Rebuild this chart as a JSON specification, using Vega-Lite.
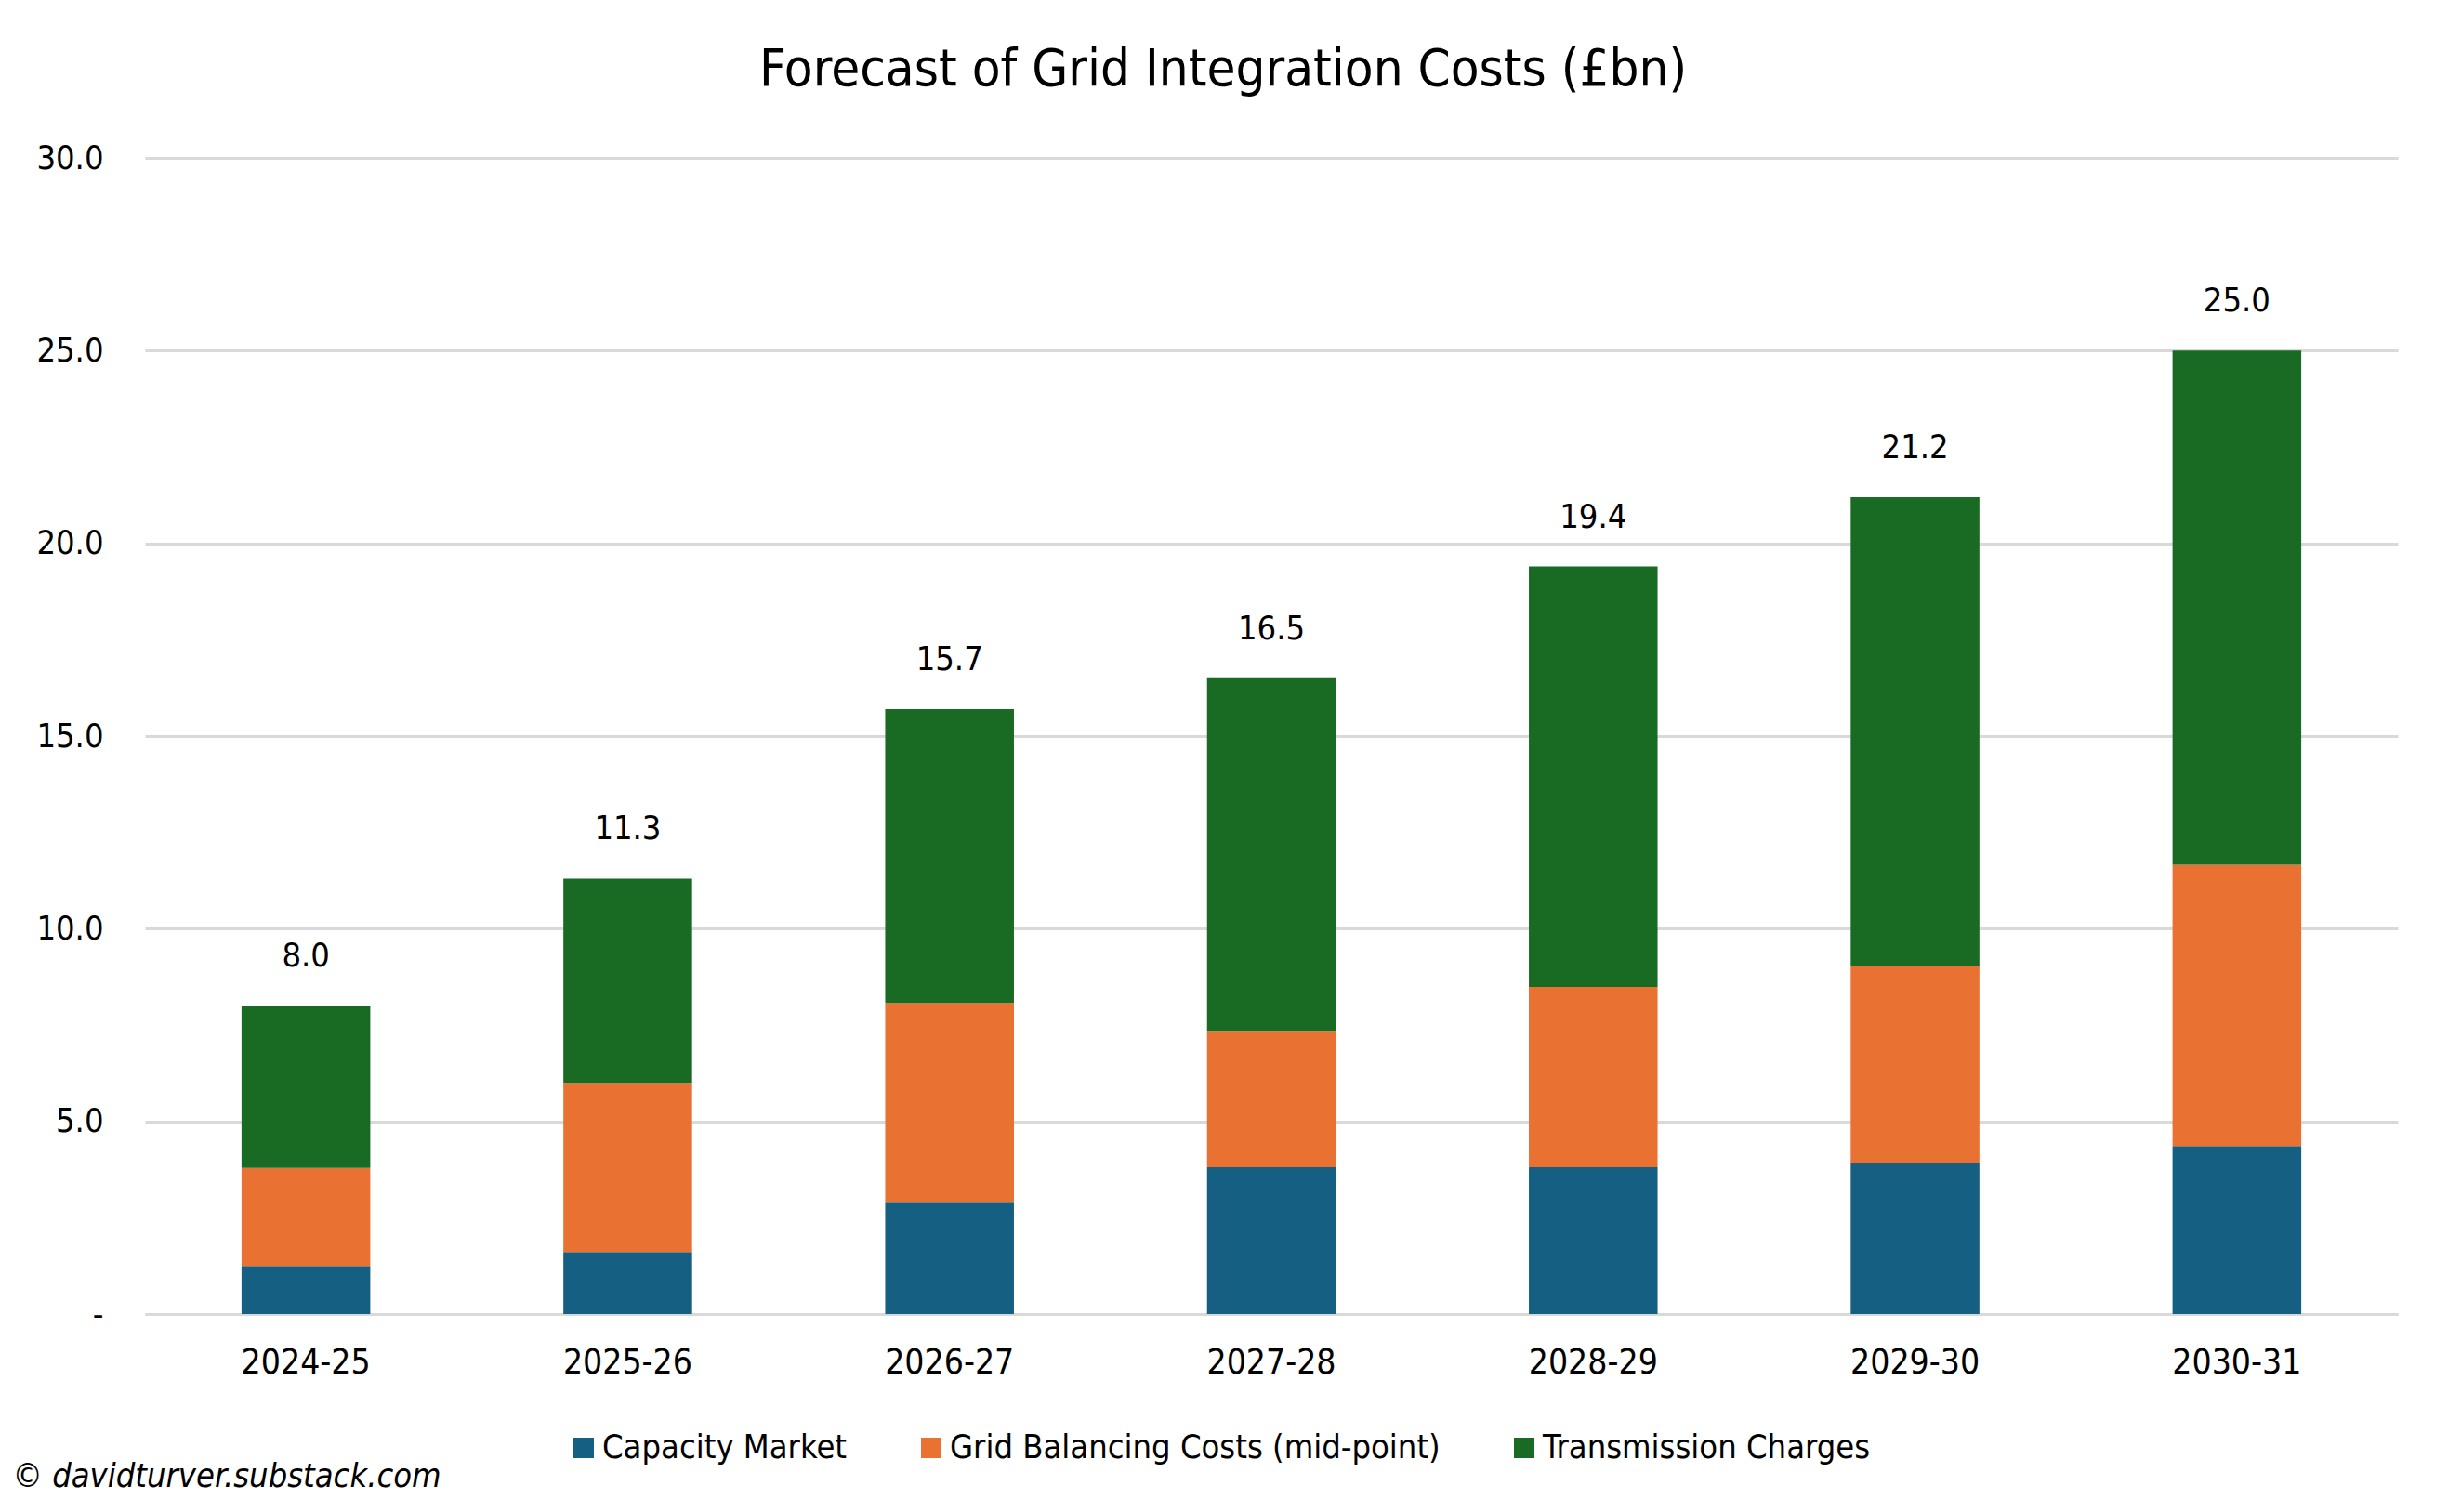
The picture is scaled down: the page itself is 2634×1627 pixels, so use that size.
{
  "$schema": "https://vega.github.io/schema/vega-lite/v6.json",
  "autosize": "none",
  "width": 2424,
  "height": 1244,
  "padding": {"left": 156, "top": 170, "right": 54, "bottom": 213},
  "background": "white",
  "config": {
    "view": {"stroke": "transparent"},
    "font": "Liberation Sans Narrow, Arial Narrow, DejaVu Sans Condensed, Roboto Condensed, sans-serif"
  },
  "title": {
    "text": "Forecast of Grid Integration Costs (£bn)",
    "fontSize": 56,
    "fontWeight": "normal",
    "color": "black",
    "anchor": "middle",
    "dx": -52,
    "offset": 48
  },
  "data": {
    "values": [
      {"year": "2024-25", "series": "Capacity Market", "value": 1.25},
      {"year": "2024-25", "series": "Grid Balancing Costs (mid-point)", "value": 2.54},
      {"year": "2024-25", "series": "Transmission Charges", "value": 4.21},
      {"year": "2025-26", "series": "Capacity Market", "value": 1.61},
      {"year": "2025-26", "series": "Grid Balancing Costs (mid-point)", "value": 4.39},
      {"year": "2025-26", "series": "Transmission Charges", "value": 5.30},
      {"year": "2026-27", "series": "Capacity Market", "value": 2.91},
      {"year": "2026-27", "series": "Grid Balancing Costs (mid-point)", "value": 5.16},
      {"year": "2026-27", "series": "Transmission Charges", "value": 7.63},
      {"year": "2027-28", "series": "Capacity Market", "value": 3.81},
      {"year": "2027-28", "series": "Grid Balancing Costs (mid-point)", "value": 3.54},
      {"year": "2027-28", "series": "Transmission Charges", "value": 9.15},
      {"year": "2028-29", "series": "Capacity Market", "value": 3.81},
      {"year": "2028-29", "series": "Grid Balancing Costs (mid-point)", "value": 4.68},
      {"year": "2028-29", "series": "Transmission Charges", "value": 10.91},
      {"year": "2029-30", "series": "Capacity Market", "value": 3.93},
      {"year": "2029-30", "series": "Grid Balancing Costs (mid-point)", "value": 5.11},
      {"year": "2029-30", "series": "Transmission Charges", "value": 12.16},
      {"year": "2030-31", "series": "Capacity Market", "value": 4.36},
      {"year": "2030-31", "series": "Grid Balancing Costs (mid-point)", "value": 7.30},
      {"year": "2030-31", "series": "Transmission Charges", "value": 13.34}
    ]
  },
  "encoding": {
    "x": {
      "field": "year",
      "type": "nominal",
      "scale": {"paddingInner": 0.6, "paddingOuter": 0.3},
      "axis": {
        "title": "© davidturver.substack.com",
        "titleFontStyle": "italic",
        "titleFontWeight": "normal",
        "titleFontSize": 36,
        "titleColor": "black",
        "titleAnchor": "start",
        "titleAlign": "left",
        "titleBaseline": "middle",
        "titleX": -143,
        "titleY": 174,
        "labelAngle": 0,
        "labelFontSize": 37,
        "labelColor": "black",
        "labelPadding": 34,
        "ticks": false,
        "domainColor": "#D9D9D9",
        "domainWidth": 3
      }
    }
  },
  "layer": [
    {
      "mark": {"type": "bar"},
      "encoding": {
        "y": {
          "field": "value",
          "type": "quantitative",
          "stack": "zero",
          "scale": {"domain": [0, 30]},
          "axis": {
            "title": null,
            "values": [0, 5, 10, 15, 20, 25, 30],
            "labelExpr": "datum.value == 0 ? '-' : format(datum.value, '.1f')",
            "labelFontSize": 36,
            "labelColor": "black",
            "labelPadding": 45,
            "ticks": false,
            "domain": false,
            "gridColor": "#D9D9D9",
            "gridWidth": 3
          }
        },
        "order": {"field": "series", "sort": "ascending"},
        "color": {
          "field": "series",
          "type": "nominal",
          "scale": {
            "domain": ["Capacity Market", "Grid Balancing Costs (mid-point)", "Transmission Charges"],
            "range": ["#156082", "#E97132", "#196B24"]
          },
          "legend": {
            "title": null,
            "orient": "none",
            "direction": "horizontal",
            "legendX": 454,
            "legendY": 1370,
            "symbolType": "square",
            "symbolSize": 484,
            "symbolStrokeWidth": 0,
            "symbolOpacity": 1,
            "labelFontSize": 36,
            "labelColor": "black",
            "labelOffset": 2,
            "columnPadding": 72,
            "labelLimit": 600
          }
        }
      }
    },
    {
      "transform": [
        {"aggregate": [{"op": "sum", "field": "value", "as": "total"}], "groupby": ["year"]}
      ],
      "mark": {"type": "text", "fontSize": 36, "color": "black", "baseline": "middle", "dy": -53},
      "encoding": {
        "y": {"field": "total", "type": "quantitative"},
        "text": {"field": "total", "type": "quantitative", "format": ".1f"}
      }
    }
  ]
}
